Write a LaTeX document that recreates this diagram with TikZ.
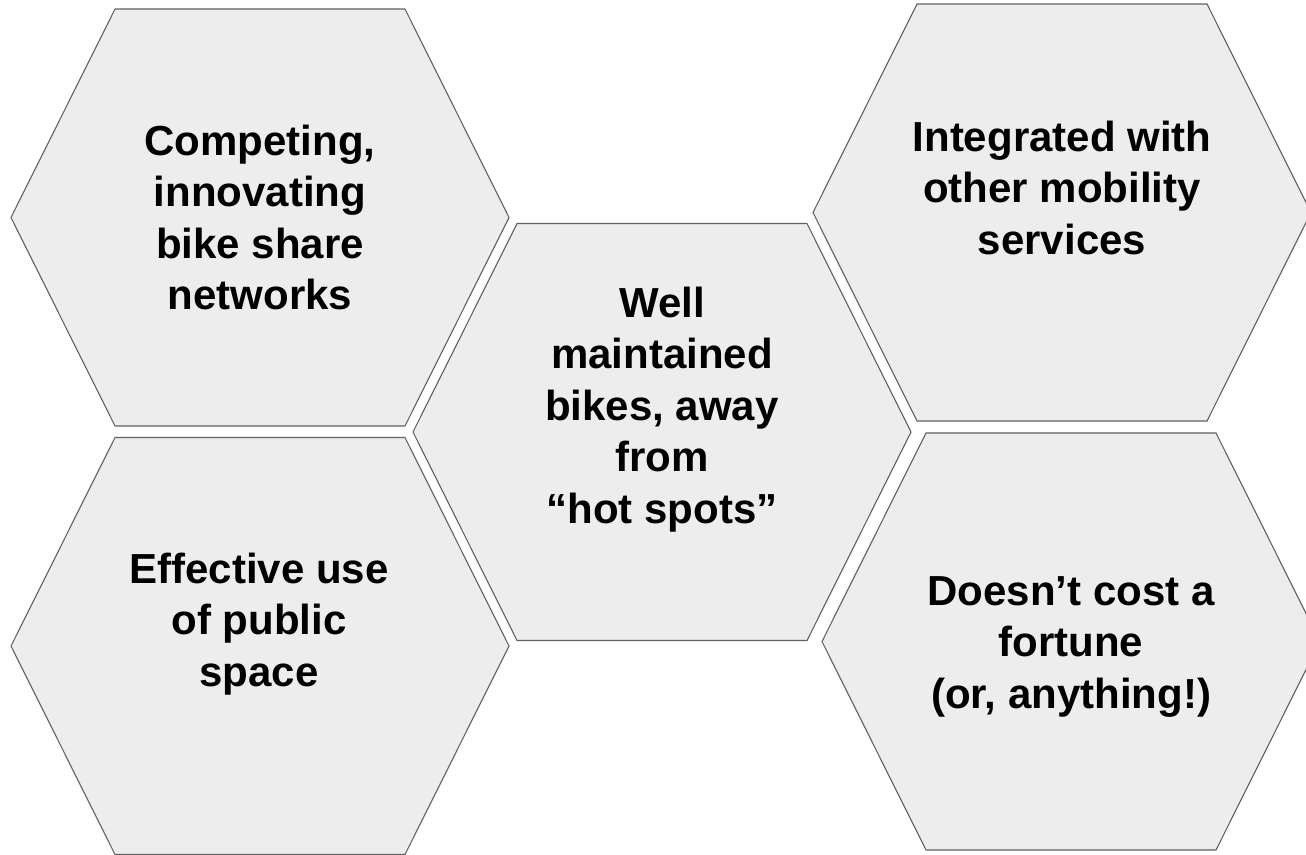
\documentclass[tikz,border=0pt]{standalone}
\usepackage{fontspec}
\setmainfont{Liberation Sans}
\begin{document}
\begin{tikzpicture}[x=1pt,y=-1pt,
  hexstyle/.style={draw=black!62,fill=black!7,line width=1.1pt,line join=miter},
  hextext/.style={anchor=base,inner sep=0pt,font=\fontsize{42}{51.5}\selectfont\bfseries}]
\useasboundingbox (0,0) rectangle (1306,854);
\newcommand{\hexagonat}[2]{%
  \draw[hexstyle] ({#1-145},{#2-208.5}) -- ({#1+145},{#2-208.5}) -- ({#1+249},{#2})
    -- ({#1+145},{#2+208.5}) -- ({#1-145},{#2+208.5}) -- ({#1-249},{#2}) -- cycle;}
\hexagonat{260}{217.5}
\hexagonat{260}{646}
\hexagonat{662}{432}
\hexagonat{1062}{212.5}
\hexagonat{1071}{641.5}
\node[hextext] (t1) at (260,155) {\begin{tabular}[t]{@{}c@{}}Competing,\\innovating\\bike share\\networks\end{tabular}};
\node[hextext] (t4) at (259,583) {\begin{tabular}[t]{@{}c@{}}Effective use\\of public\\space\end{tabular}};
\node[hextext] (t2) at (662,317) {\begin{tabular}[t]{@{}c@{}}Well\\maintained\\bikes, away\\from\\“hot spots”\end{tabular}};
\node[hextext] (t3) at (1062,151) {\begin{tabular}[t]{@{}c@{}}Integrated with\\other mobility\\services\end{tabular}};
\node[hextext] (t5) at (1071,605) {\begin{tabular}[t]{@{}c@{}}Doesn’t cost a\\fortune\\(or, anything!)\end{tabular}};
\end{tikzpicture}
\end{document}
